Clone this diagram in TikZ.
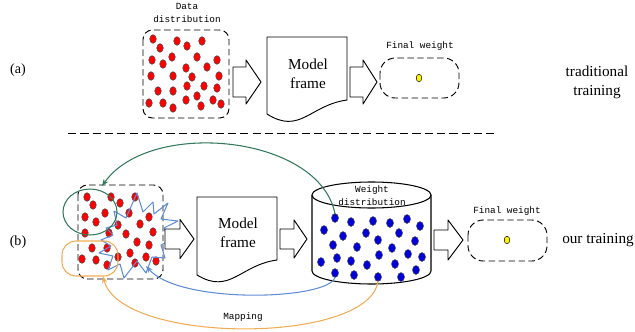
\documentclass[tikz,border=0pt]{standalone}
\usepackage{fontspec}
\setmainfont{Liberation Serif}
\newfontfamily\monofont{Liberation Mono}
\usetikzlibrary{arrows.meta}
\definecolor{mapgreen}{RGB}{50,120,90}
\definecolor{mapblue}{RGB}{95,140,215}
\definecolor{maporange}{RGB}{240,172,85}
\definecolor{dotblue}{RGB}{0,0,215}
\tikzset{
  >={Stealth[length=6pt]},
  every picture/.style={line cap=round, line join=round},
  px/.style={x=0.03cm, y=-0.03cm},
  dashbox/.style={draw, line width=0.8pt, line cap=butt, dash pattern=on 5.5pt off 3pt, rounded corners=8pt},
  reddot/.style={draw=black!70, thin, fill=red},
  bluedot/.style={draw=black!70, thin, fill=dotblue},
  weightdot/.style={draw=black, thin, fill=yellow},
  docshape/.style={draw, line width=0.8pt, fill=white},
  caption/.style={font=\monofont\fontsize{8}{11}\selectfont, inner sep=0pt, align=center},
  bigtext/.style={font=\fontsize{13}{16}\selectfont, inner sep=0pt, align=center},
  panel/.style={font=\fontsize{12}{14}\selectfont, inner sep=0pt},
  link/.style={->, line width=0.9pt},
}
% block arrow: x, y (centre), length, head length, shaft half, head half
\newcommand\fatarrow[6]{\draw[line width=0.8pt, fill=white] (#1,{#2-#5}) -- ({#1+#3-#4},{#2-#5})
  -- ({#1+#3-#4},{#2-#6}) -- ({#1+#3},#2) -- ({#1+#3-#4},{#2+#6})
  -- ({#1+#3-#4},{#2+#5}) -- (#1,{#2+#5}) -- cycle;}

\begin{document}
\begin{tikzpicture}[px]
  \useasboundingbox (0,0) rectangle (635,332);
  % (a) traditional training
  \node[panel] (lbla) at (18,70) {(a)};
  \node[caption] (datalbl) at (187,12.5) {Data\\distribution};
  \draw[dashbox] (143,30) rectangle (229,118);
  \foreach \x/\y in {153/39, 160/48, 177/41, 187/46, 202/41, 152/60, 163/64, 172/57, 197/57,
    217/60, 207/67, 186/68, 151/76, 173/76, 192/77, 219/76, 158/91, 173/91, 187/86, 204/86,
    217/88, 149/103, 163/103, 173/108, 186/100, 197/96, 201/106, 213/100, 221/104}
    \draw[reddot] (\x,\y) ellipse [x radius=3.3, y radius=4.3];
  \fatarrow{233}{82}{28}{15}{15}{22}
  \draw[docshape] (267,37) -- (347,37) -- (347,100) .. controls (310,105) and (300,135) .. (267,114) -- cycle;
  \node[bigtext] (framea) at (308,74) {Model\\frame};
  \fatarrow{350}{82}{27}{14}{15}{22}
  \node[caption] (finala) at (420,46) {Final weight};
  \draw[dashbox, rounded corners=13pt] (380,58) rectangle (459,98);
  \draw[weightdot] (419,78) ellipse [x radius=2.8, y radius=3.8];
  \node[bigtext] (trad) at (597,82) {traditional\\training};
  \draw[line width=0.7pt, line cap=butt, dash pattern=on 7pt off 3.5pt] (68,133) -- (498,133);
  % (b) our training
  \node[panel] (lblb) at (18,242) {(b)};
  \draw[dashbox] (78,185) rectangle (163,279);
  \foreach \x/\y in {87/197, 111/197, 135/197, 93/205, 120/203, 105/213, 85/217, 129/213,
    149/217, 96/222, 118/225, 140/224, 85/233, 109/233, 126/234, 153/232, 92/248, 107/248,
    137/242, 149/245, 118/257, 82/259, 96/260, 107/265, 130/253, 135/263, 146/257, 156/261}
    \draw[reddot] (\x,\y) ellipse [x radius=3.3, y radius=4.3];
  \draw[mapblue, line width=0.9pt] (106,228) -- (117,225) -- (114,211) -- (126,218) -- (137,193)
    -- (143,212) -- (153,202) -- (154,214) -- (168,203) -- (161,219) -- (178,221) -- (164,228)
    -- (169,241) -- (161,245) -- (165,258) -- (152,257) -- (146,273) -- (137,261) -- (124,278)
    -- (120,264) -- (108,270) -- (113,256) -- (99,253) -- (111,246) -- (101,240) -- (113,235) -- cycle;
  \draw[mapgreen, line width=0.9pt] (90,212) ellipse [x radius=27, y radius=23];
  \draw[maporange, line width=0.9pt, rounded corners=12pt] (62,241) rectangle (118,276);
  \fatarrow{165}{239}{29}{14}{10}{19.5}
  \draw[docshape] (197,197) -- (277,197) -- (277,260) .. controls (240,265) and (230,295) .. (197,275) -- cycle;
  \node[bigtext] (frameb) at (238,233) {Model\\frame};
  \fatarrow{280}{239}{27}{13}{10}{19}
  % weight cylinder
  \draw[line width=0.9pt, fill=white] (312,195) -- (312,271) arc[start angle=180, end angle=0, x radius=59.5, y radius=13] -- (431,195);
  \draw[line width=0.9pt, fill=white] (371.5,195) ellipse [x radius=59.5, y radius=13];
  \node[caption] (weightlbl) at (372,196) {Weight\\distribution};
  \foreach \x/\y in {335/218, 351/222, 373/221, 390/223, 407/219, 420/226, 324/230, 343/236,
    366/233, 399/233, 415/241, 333/245, 357/247, 378/240, 392/248, 408/254, 422/257, 321/262,
    337/258, 351/261, 367/265, 379/255, 395/264, 416/270, 335/273, 354/275, 378/277, 401/277}
    \draw[bluedot] (\x,\y) ellipse [x radius=3.5, y radius=4.5];
  \fatarrow{434}{240}{29}{15}{10}{20}
  \node[caption] (finalb) at (507,211) {Final weight};
  \draw[dashbox, rounded corners=13pt] (468,220) rectangle (547,261);
  \draw[weightdot] (507,240) ellipse [x radius=2.8, y radius=3.8];
  \node[bigtext] (ours) at (598,240) {our training};
  % mappings back to the data
  \coordinate (gsrc) at (335,214);
  \coordinate (gdst) at (102,186);
  \coordinate (bsrc) at (335,277);
  \coordinate (bdst) at (146,266);
  \coordinate (osrc) at (378,281);
  \coordinate (odst) at (103,276);
  \draw[link, mapgreen] (gsrc) .. controls (320,135) and (150,118) .. (gdst);
  \draw[link, mapblue] (bsrc) .. controls (330,300) and (180,305) .. (bdst);
  \draw[link, maporange] (osrc) .. controls (370,345) and (120,345) .. (odst);
  \node[caption] (maplbl) at (243,317) {Mapping};
\end{tikzpicture}
\end{document}
